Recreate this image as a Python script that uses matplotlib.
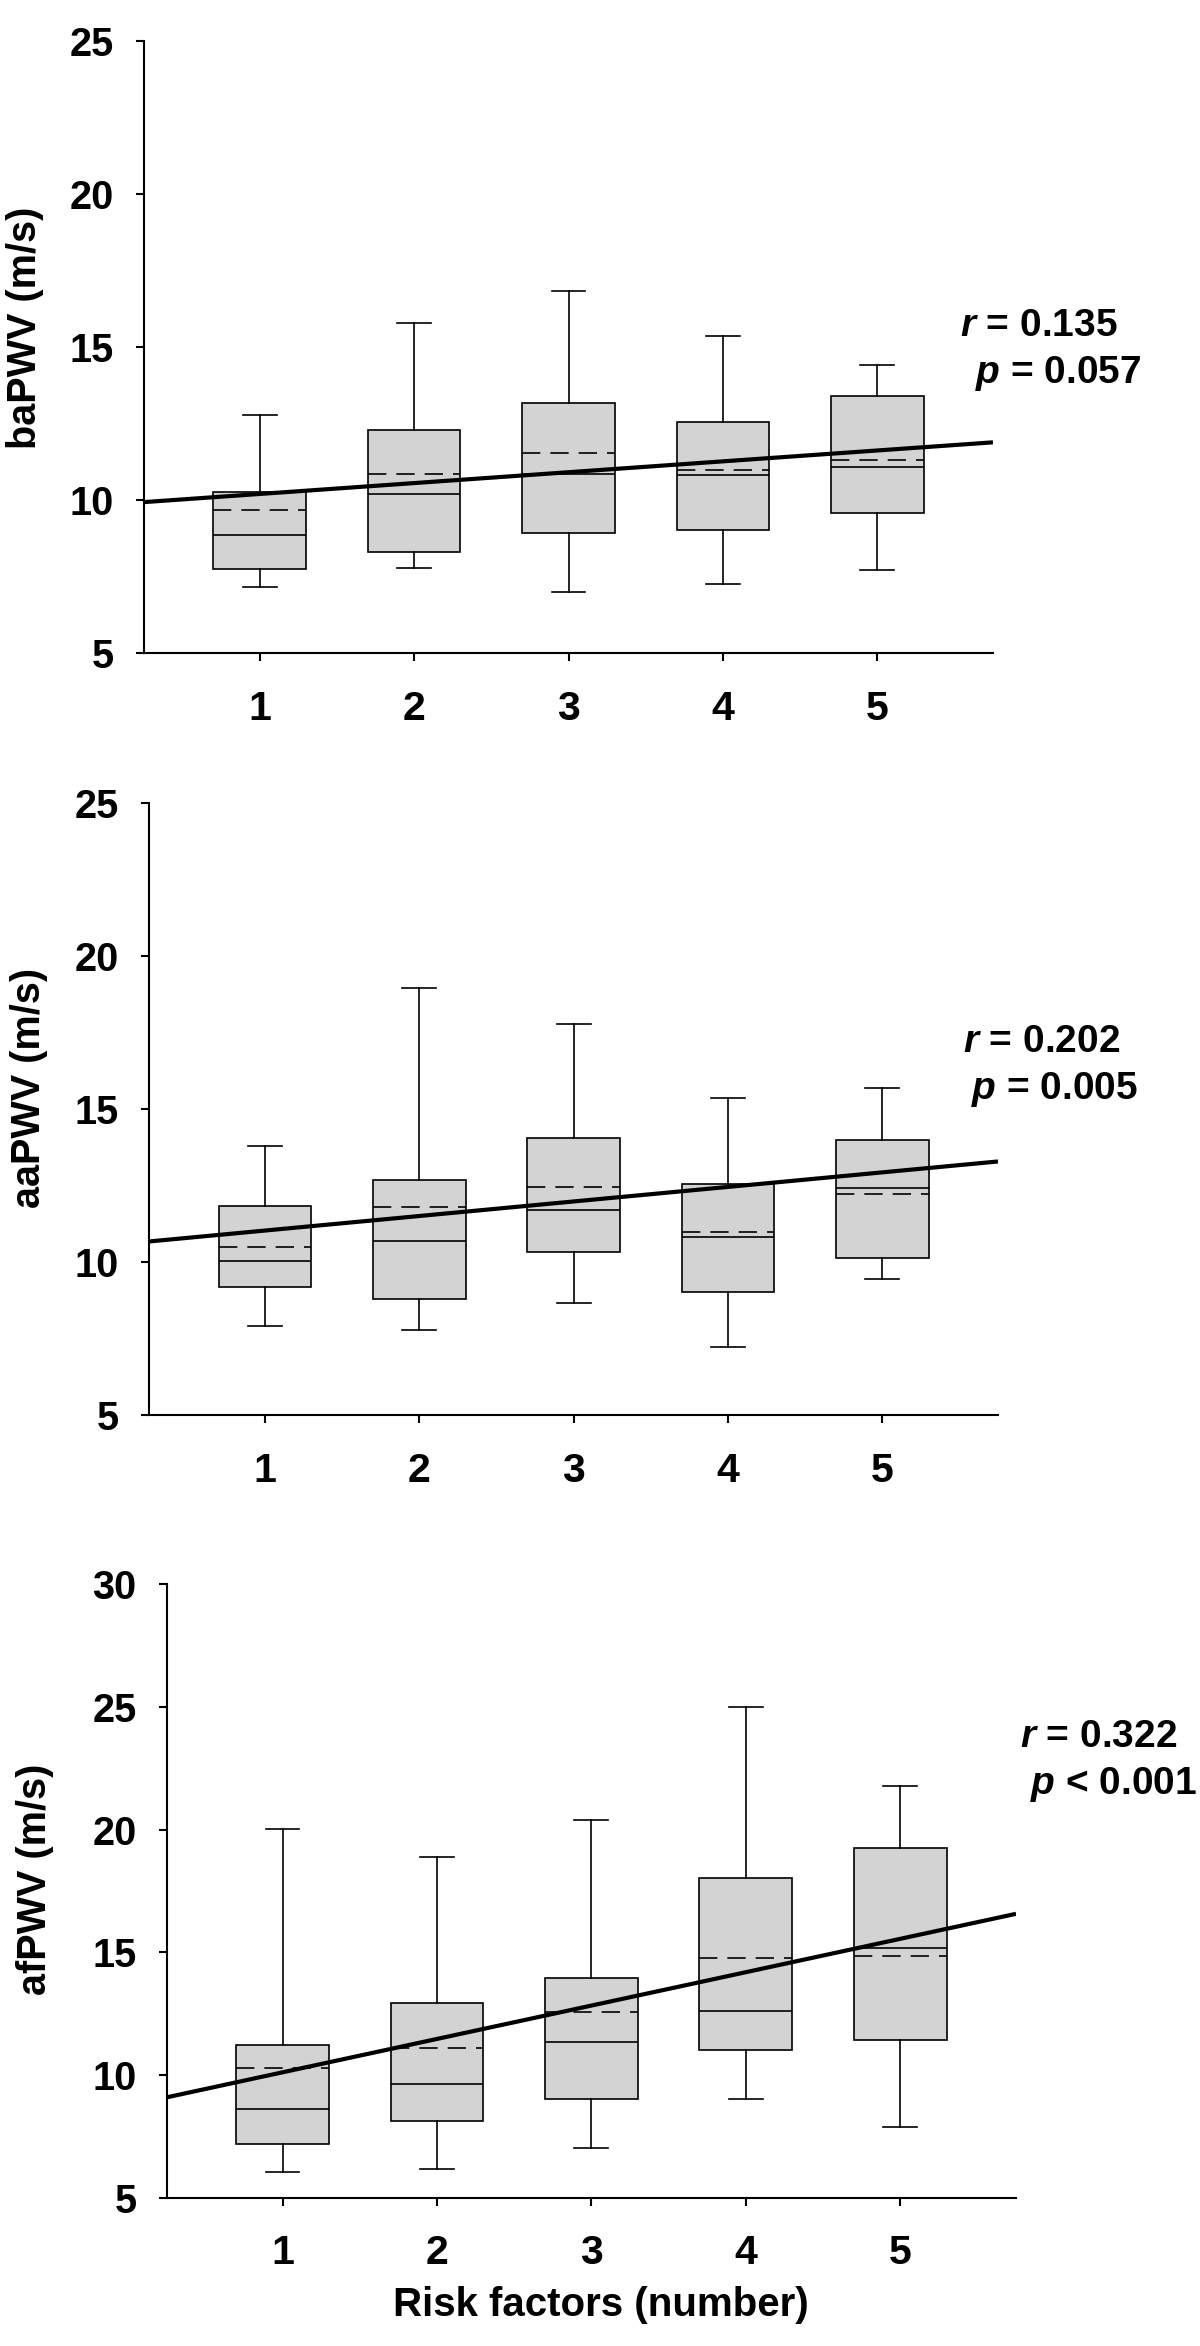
import matplotlib
matplotlib.use('Agg')
import matplotlib.pyplot as plt

plt.rcParams['font.family'] = ['Liberation Sans', 'DejaVu Sans']
plt.rcParams['font.weight'] = 'bold'
plt.rcParams['mathtext.fontset'] = 'custom'
plt.rcParams['mathtext.it'] = 'Liberation Sans:italic:bold'
plt.rcParams['mathtext.rm'] = 'Liberation Sans:bold'

risk_factors = [1, 2, 3, 4, 5]

# baPWV
ba_whislo = [7.16, 7.78, 7.00, 7.24, 7.72]
ba_q1 = [7.74, 8.29, 8.93, 9.01, 9.56]
ba_med = [8.86, 10.20, 10.86, 10.83, 11.06]
ba_mean = [9.66, 10.86, 11.53, 10.97, 11.31]
ba_q3 = [10.26, 12.30, 13.16, 12.53, 13.41]
ba_whishi = [12.76, 15.79, 16.83, 15.37, 14.40]
ba_fit = [9.84, 0.355]   # intercept, slope

# aaPWV
aa_whislo = [7.92, 7.77, 8.66, 7.23, 9.43]
aa_q1 = [9.17, 8.79, 10.31, 9.01, 10.13]
aa_med = [10.03, 10.67, 11.68, 10.82, 12.41]
aa_mean = [10.50, 11.78, 12.45, 10.98, 12.22]
aa_q3 = [11.84, 12.68, 14.05, 12.54, 13.97]
aa_whishi = [13.78, 18.95, 17.76, 15.35, 15.69]
aa_fit = [10.55, 0.475]

# afPWV
af_whislo = [6.04, 6.19, 7.02, 9.01, 7.88]
af_q1 = [7.17, 8.11, 9.01, 11.01, 11.44]
af_med = [8.60, 9.62, 11.34, 12.61, 15.17]
af_mean = [10.30, 11.10, 12.55, 14.76, 14.86]
af_q3 = [11.24, 12.94, 13.94, 18.01, 19.24]
af_whishi = [20.02, 18.89, 20.41, 25.01, 21.76]
af_fit = [8.75, 1.36]

W, H = 1200, 2346
fig = plt.figure(figsize=(W / 100, H / 100), dpi=100)


def px_axes(left, top, right, bottom):
    return fig.add_axes([left / W, 1 - bottom / H, (right - left) / W, (bottom - top) / H])


def panel(ax, whislo, q1, med, mean, q3, whishi, fit, ylim, yticks):
    stats = []
    for i in range(len(risk_factors)):
        stats.append(dict(whislo=whislo[i], q1=q1[i], med=med[i], mean=mean[i],
                          q3=q3[i], whishi=whishi[i], fliers=[]))
    ax.bxp(stats, positions=risk_factors, widths=0.6, capwidths=0.22,
           patch_artist=True, showmeans=True, meanline=True,
           boxprops=dict(facecolor='#d3d3d3', edgecolor='black', linewidth=1.2),
           medianprops=dict(color='black', linewidth=1.2),
           meanprops=dict(color='black', linewidth=1.2, linestyle=(0, (11, 6))),
           whiskerprops=dict(color='black', linewidth=1.2),
           capprops=dict(color='black', linewidth=1.2))
    xs = [0.25, 5.75]
    ax.plot(xs, [fit[0] + fit[1] * x for x in xs], color='black', linewidth=3.0,
            solid_capstyle='butt', zorder=5)
    ax.set_xlim(0.25, 5.75)
    ax.set_ylim(*ylim)
    ax.set_yticks(yticks)
    ax.set_xticks(risk_factors)
    ax.set_xticklabels([str(r) for r in risk_factors])
    for s in ['top', 'right']:
        ax.spines[s].set_visible(False)
    for s in ['left', 'bottom']:
        ax.spines[s].set_linewidth(1.5)
    ax.tick_params(axis='both', direction='out', length=5.8, width=1.5)
    ax.tick_params(axis='y', labelsize=28.5, pad=16)
    ax.tick_params(axis='x', labelsize=29.5, pad=20.5)


ax1 = px_axes(144, 40.7, 993, 653)
panel(ax1, ba_whislo, ba_q1, ba_med, ba_mean, ba_q3, ba_whishi, ba_fit,
      (5, 25), [5, 10, 15, 20, 25])
ax2 = px_axes(149.3, 802.7, 998, 1415)
panel(ax2, aa_whislo, aa_q1, aa_med, aa_mean, aa_q3, aa_whishi, aa_fit,
      (5, 25), [5, 10, 15, 20, 25])
ax3 = px_axes(166.7, 1584.3, 1016, 2197.7)
panel(ax3, af_whislo, af_q1, af_med, af_mean, af_q3, af_whishi, af_fit,
      (5, 30), [5, 10, 15, 20, 25, 30])

# axis titles
fig.text(25 / W, 1 - 328 / H, 'baPWV (m/s)', rotation=90, ha='center', va='center',
         fontsize=28.5, fontweight='bold')
fig.text(29 / W, 1 - 1088 / H, 'aaPWV (m/s)', rotation=90, ha='center', va='center',
         fontsize=28.5, fontweight='bold')
fig.text(35 / W, 1 - 1879 / H, 'afPWV (m/s)', rotation=90, ha='center', va='center',
         fontsize=28.5, fontweight='bold')
fig.text(601 / W, 1 - 2305 / H, 'Risk factors (number)', ha='center', va='center',
         fontsize=29, fontweight='bold')

# correlation annotations
notes = [(960, 326, r'$r$ = 0.135', 975, 373, r'$p$ = 0.057'),
         (963, 1042, r'$r$ = 0.202', 971, 1089, r'$p$ = 0.005'),
         (1020, 1737, r'$r$ = 0.322', 1030, 1784, r'$p$ < 0.001')]
for rx, ry, rt, px_, py, pt in notes:
    fig.text(rx / W, 1 - ry / H, rt, ha='left', va='center', fontsize=28, fontweight='bold')
    fig.text(px_ / W, 1 - py / H, pt, ha='left', va='center', fontsize=28, fontweight='bold')

fig.savefig('out.png', dpi=100)
